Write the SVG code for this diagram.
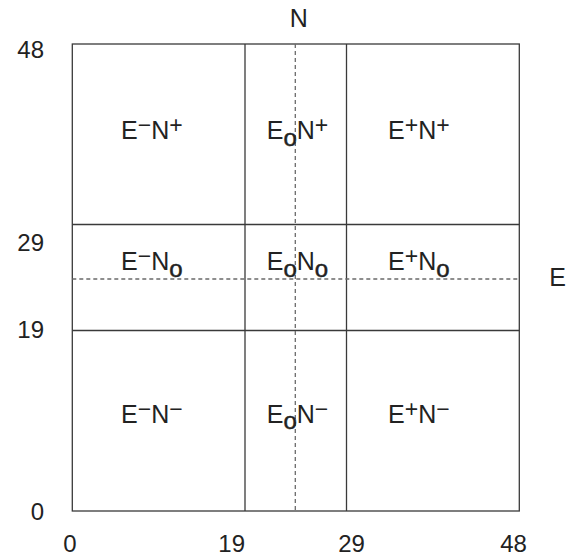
<svg xmlns="http://www.w3.org/2000/svg" width="568" height="558" viewBox="0 0 568 558">
<style>
.ln{stroke:#3a3a3a;stroke-width:1.3;fill:none}
.ds{stroke:#6a6a6a;stroke-width:1.3;stroke-dasharray:4,3;fill:none}
.t{font-family:"Liberation Sans",Arial,sans-serif;font-size:25px;fill:#222}
.ax{font-family:"Liberation Sans",Arial,sans-serif;font-size:24px;fill:#222}
.sup{font-size:23px}
.sub{font-size:24px;stroke:#222;stroke-width:0.5}
</style>
<rect width="568" height="558" fill="#fff"/>
<g id="grid">
<rect class="ln" x="72.3" y="44" width="447" height="467"/>
<line class="ln" x1="245" y1="44" x2="245" y2="511"/>
<line class="ln" x1="346.5" y1="44" x2="346.5" y2="511"/>
<line class="ln" x1="72.3" y1="224.5" x2="519.3" y2="224.5"/>
<line class="ln" x1="72.3" y1="330.5" x2="519.3" y2="330.5"/>
</g>
<g id="connectors">
<line class="ds" x1="295.3" y1="44" x2="295.3" y2="511"/>
<line class="ds" x1="72.3" y1="279" x2="519.3" y2="279"/>
</g>
<g id="cell-EmNp"><text class="t" x="121" y="139.3">E<tspan class="sup" dy="-6">−</tspan><tspan dy="6">N</tspan><tspan class="sup" dy="-6">+</tspan></text></g>
<g id="cell-EoNp"><text class="t" x="266.7" y="139.3">E<tspan class="sub" dy="6.5">o</tspan><tspan dy="-6.5">N</tspan><tspan class="sup" dy="-6">+</tspan></text></g>
<g id="cell-EpNp"><text class="t" x="388" y="139.3">E<tspan class="sup" dy="-6">+</tspan><tspan dy="6">N</tspan><tspan class="sup" dy="-6">+</tspan></text></g>
<g id="cell-EmNo"><text class="t" x="121" y="270">E<tspan class="sup" dy="-6">−</tspan><tspan dy="6">N</tspan><tspan class="sub" dy="6.5">o</tspan></text></g>
<g id="cell-EoNo"><text class="t" x="266.7" y="270">E<tspan class="sub" dy="6.5">o</tspan><tspan dy="-6.5">N</tspan><tspan class="sub" dy="6.5">o</tspan></text></g>
<g id="cell-EpNo"><text class="t" x="388" y="270">E<tspan class="sup" dy="-6">+</tspan><tspan dy="6">N</tspan><tspan class="sub" dy="6.5">o</tspan></text></g>
<g id="cell-EmNm"><text class="t" x="121" y="422.7">E<tspan class="sup" dy="-6">−</tspan><tspan dy="6">N</tspan><tspan class="sup" dy="-6">−</tspan></text></g>
<g id="cell-EoNm"><text class="t" x="266.7" y="422.7">E<tspan class="sub" dy="6.5">o</tspan><tspan dy="-6.5">N</tspan><tspan class="sup" dy="-6">−</tspan></text></g>
<g id="cell-EpNm"><text class="t" x="388" y="422.7">E<tspan class="sup" dy="-6">+</tspan><tspan dy="6">N</tspan><tspan class="sup" dy="-6">−</tspan></text></g>
<g id="axis-labels">
<text class="t" x="298.8" y="26.7" text-anchor="middle">N</text>
<text class="t" x="549.3" y="286">E</text>
<text class="ax" x="44" y="57.7" text-anchor="end">48</text>
<text class="ax" x="44" y="251" text-anchor="end">29</text>
<text class="ax" x="44" y="338" text-anchor="end">19</text>
<text class="ax" x="44" y="520" text-anchor="end">0</text>
<text class="ax" x="70" y="551.7" text-anchor="middle">0</text>
<text class="ax" x="231.7" y="551.7" text-anchor="middle">19</text>
<text class="ax" x="351.5" y="551.7" text-anchor="middle">29</text>
<text class="ax" x="513.5" y="551.7" text-anchor="middle">48</text>
</g>
</svg>
